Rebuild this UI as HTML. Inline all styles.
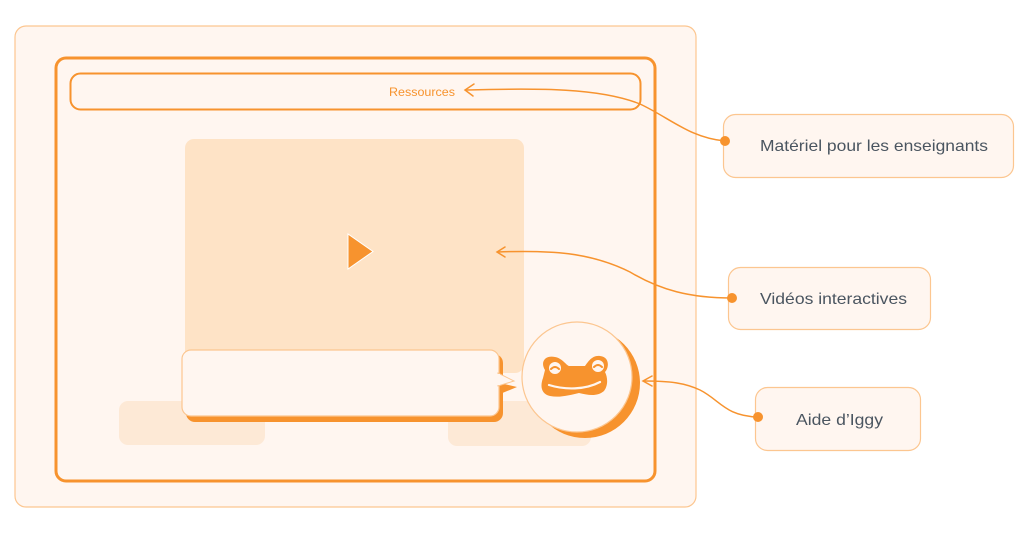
<!DOCTYPE html>
<html><head><meta charset="utf-8"><style>
html,body{margin:0;padding:0;background:#fff;}
svg{display:block;}
text{font-family:"Liberation Sans",sans-serif;}
</style></head><body>
<svg width="1024" height="534" viewBox="0 0 1024 534" xmlns="http://www.w3.org/2000/svg">
<rect x="15" y="26" width="681" height="481" rx="11" fill="#fff6f0" stroke="#fcc690" stroke-width="1.2"/>
<rect x="56" y="58" width="599" height="423" rx="10" fill="#fff6f0" stroke="#f7932e" stroke-width="3"/>
<rect x="70.5" y="73.5" width="570" height="36" rx="10" fill="none" stroke="#f7932e" stroke-width="2"/>
<text x="389" y="96" font-size="12" fill="#f7932e" textLength="66" lengthAdjust="spacingAndGlyphs">Ressources</text>
<rect x="185" y="139" width="339" height="234" rx="9" fill="#fee3c6"/>
<polygon points="348,234 348,269 373,251.5" fill="#f7932e" stroke="#fff" stroke-width="1"/>
<rect x="119" y="401" width="146" height="44" rx="9" fill="#fde9d6"/>
<rect x="448" y="401" width="143" height="45" rx="9" fill="#fde9d6"/>
<rect x="186" y="354" width="317" height="68" rx="9" fill="#f7932e"/>
<polygon points="500,383 517,387 500,394" fill="#f7932e"/>
<rect x="182" y="350" width="317" height="66" rx="9" fill="#fff6f0" stroke="#fcc690" stroke-width="1.2"/>
<polygon points="498,373 514,381 498,386" fill="#fff6f0" stroke="#fcc690" stroke-width="1"/>
<rect x="496" y="374" width="4" height="11" fill="#fff6f0"/>
<circle cx="585" cy="383" r="55" fill="#f7932e"/>
<circle cx="577" cy="377" r="55" fill="#fff6f0" stroke="#fcc690" stroke-width="1.2"/>
<g fill="#f7932e">
<path d="M545,370 C540,362 545,355 555,357 C562,358 566,365 569,366 L585,366 C588,362 592,355 600,356 C610,357 609,368 605,372 C608,378 608,386 604,391 C597,397 588,395 579,393 C570,395 560,398 550,396 C541,394 540,386 543,378 Z"/>
</g>
<g fill="none" stroke="#fff6f0" stroke-width="2.2" stroke-linecap="round">
<circle cx="555" cy="368" r="6" fill="#fff6f0" stroke="none"/>
<circle cx="598" cy="366" r="6" fill="#fff6f0" stroke="none"/>
<path d="M549,385 C565,390 585,390 600,382"/>
</g>
<g fill="none" stroke="#f7932e" stroke-width="2" stroke-linecap="round">
<path d="M551,369 q4,-4 8,0"/><path d="M594,367 q4,-4 8,0"/>
</g>
<g fill="none" stroke="#f7932e" stroke-width="1.5" stroke-linecap="round">
<path d="M725,141 C690,138 670,118 640,104 C600,88 540,88 467,90"/>
<path d="M474,84 L465,90 L473,96"/>
<path d="M732,298 C690,298 660,290 630,272 C590,252 550,250 498,252"/>
<path d="M505,247 L497,252 L505,257"/>
<path d="M758,417 C725,416 720,400 700,390 C685,383 670,381 645,381"/>
<path d="M652,376 L643,381 L652,386"/>
</g>
<rect x="723.5" y="114.5" width="290" height="63" rx="12" fill="#fff6f0" stroke="#fcc690" stroke-width="1.2"/>
<rect x="728.5" y="267.5" width="202" height="62" rx="12" fill="#fff6f0" stroke="#fcc690" stroke-width="1.2"/>
<rect x="755.5" y="387.5" width="165" height="63" rx="12" fill="#fff6f0" stroke="#fcc690" stroke-width="1.2"/>
<circle cx="725" cy="141" r="5" fill="#f7932e"/>
<circle cx="732" cy="298" r="5" fill="#f7932e"/>
<circle cx="758" cy="417" r="5" fill="#f7932e"/>
<text x="760" y="151" font-size="16" fill="#4a5560" textLength="228" lengthAdjust="spacingAndGlyphs">Matériel pour les enseignants</text>
<text x="760" y="304" font-size="16" fill="#4a5560" textLength="147" lengthAdjust="spacingAndGlyphs">Vidéos interactives</text>
<text x="796" y="425" font-size="16" fill="#4a5560" textLength="87" lengthAdjust="spacingAndGlyphs">Aide d’Iggy</text>
</svg>
</body></html>
